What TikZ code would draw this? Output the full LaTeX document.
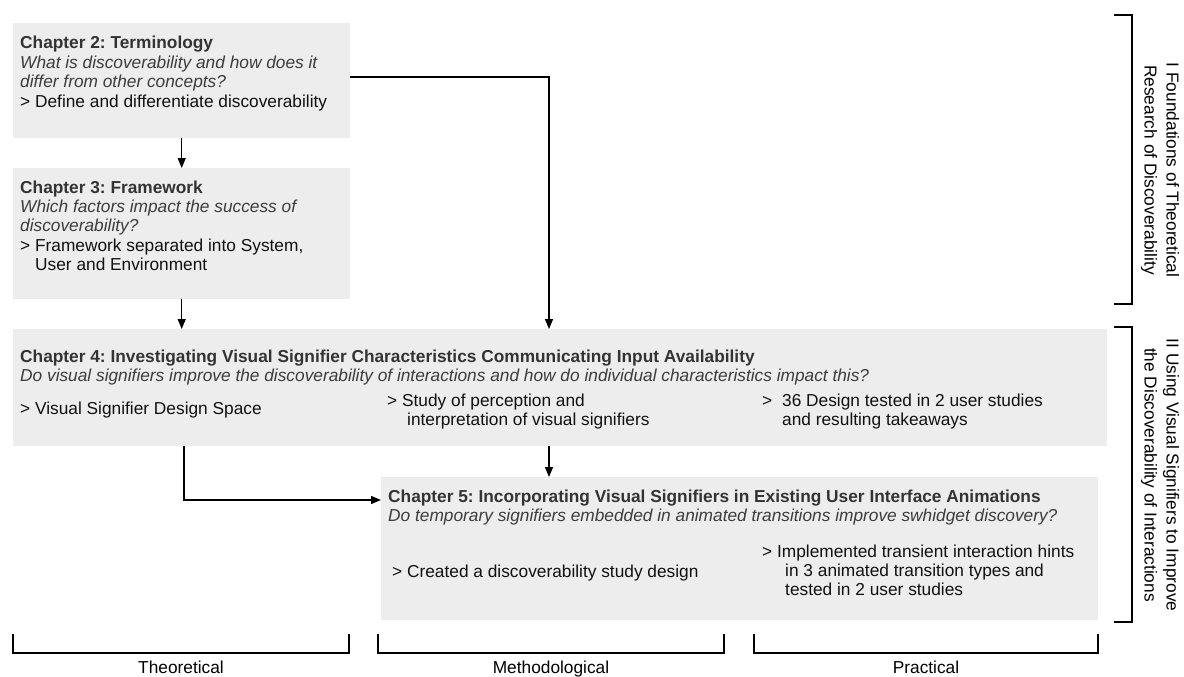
\documentclass[tikz,border=0pt]{standalone}
\usepackage{fontspec}
\setmainfont{Liberation Sans}
\usetikzlibrary{arrows.meta}
\definecolor{boxgray}{HTML}{EDEDED}
\definecolor{titlecol}{HTML}{333333}
\definecolor{qcol}{HTML}{3C3C3C}
\definecolor{bulcol}{HTML}{111111}
\newcommand{\mlines}[1]{\begin{tabular}[t]{@{}l@{}}#1\end{tabular}}
\newcommand{\clines}[1]{\begin{tabular}[t]{@{}c@{}}#1\end{tabular}}
\newcommand{\ttl}{\color{titlecol}\bfseries}
\newcommand{\qst}{\color{qcol}\itshape}
\frenchspacing
\begin{document}
\begin{tikzpicture}[x=1pt,y=-1pt,
  box/.style={fill=boxgray, draw=none, anchor=north west, inner sep=0pt},
  txt/.style={anchor=base west, inner sep=0pt, text=bulcol,
    font=\fontsize{17.3pt}{19.4pt}\selectfont},
  lbl/.style={anchor=base, inner sep=0pt, text=black,
    font=\fontsize{17.3pt}{19.4pt}\selectfont},
  sidelbl/.style={anchor=center, inner sep=0pt, text=black, rotate=-90,
    font=\fontsize{17.3pt}{22pt}\selectfont},
  arr/.style={line width=1.3pt, -{Triangle[length=10pt,width=8pt]}},
  brk/.style={line width=2.5pt, line cap=rect}
]
\useasboundingbox (0,0) rectangle (1184,677);

% boxes
\node[box, minimum width=337pt, minimum height=115pt] (c2) at (13,23) {};
\node[box, minimum width=337pt, minimum height=131pt] (c3) at (13,168) {};
\node[box, minimum width=1094pt, minimum height=117pt] (c4) at (13,329) {};
\node[box, minimum width=717pt, minimum height=143pt] (c5) at (381,477) {};

% texts chapter 2
\node[txt] (t2) at (20,49) {\mlines{\ttl Chapter 2: Terminology\\
  \qst What is discoverability and how does it\\
  \qst differ from other concepts?\\
  > Define and differentiate discoverability}};
% chapter 3
\node[txt] (t3) at (20,193) {\mlines{\ttl Chapter 3: Framework\\
  \qst Which factors impact the success of\\
  \qst discoverability?\\
  > Framework separated into System,\\
  \hspace*{15pt}User and Environment}};
% chapter 4
\node[txt] (t4) at (20,362) {\mlines{\ttl Chapter 4: Investigating Visual Signifier Characteristics Communicating Input Availability\\
  \qst Do visual signifiers improve the discoverability of interactions and how do individual characteristics impact this?}};
\node[txt] (b4a) at (20,414) {> Visual Signifier Design Space};
\node[txt] (b4b) at (387,406) {\mlines{> Study of perception and\\
  \hspace*{20pt}interpretation of visual signifiers}};
\node[txt] (b4c) at (762,406) {\mlines{\makebox[20pt][l]{>}36 Design tested in 2 user studies\\
  \hspace*{20pt}and resulting takeaways}};
% chapter 5
\node[txt] (t5) at (388,502) {\mlines{\ttl Chapter 5: Incorporating Visual Signifiers in Existing User Interface Animations\\
  \qst Do temporary signifiers embedded in animated transitions improve swhidget discovery?}};
\node[txt] (b5a) at (392,577) {> Created a discoverability study design};
\node[txt] (b5b) at (762,557) {\mlines{> Implemented transient interaction hints\\
  \hspace*{23pt}in 3 animated transition types and\\
  \hspace*{23pt}tested in 2 user studies}};

% connectors
\draw[arr] (c2.south) -- (c3.north);
\draw[arr] (c3.south) -- (c4.north -| c3.south);
\coordinate (k1) at (549,77);
\draw[arr] (c2.east |- k1) -- (k1) -- (c4.north -| k1);
\coordinate (k2) at (549,460);
\draw[arr] (c4.south -| k2) -- (c5.north -| k2);
\coordinate (k3) at (184,500);
\draw[arr] (c4.south -| k3) -- (k3) -- (c5.west |- k3);

% right brackets
\draw[brk] (1115,15) -- (1132,15) -- (1132,304) -- (1115,304);
\draw[brk] (1115,327) -- (1132,327) -- (1132,622) -- (1115,622);
\node[sidelbl] (p1) at (1160,170) {\clines{I Foundations of Theoretical\\ Research of Discoverability}};
\node[sidelbl] (p2) at (1160,475) {\clines{II Using Visual Signifiers to Improve\\ the Discoverability of Interactions}};

% bottom brackets
\draw[brk] (13,635) -- (13,653) -- (349,653) -- (349,635);
\draw[brk] (378,635) -- (378,653) -- (724,653) -- (724,635);
\draw[brk] (754,635) -- (754,653) -- (1098,653) -- (1098,635);
\node[lbl] (l1) at (181,673) {Theoretical};
\node[lbl] (l2) at (551,673) {Methodological};
\node[lbl] (l3) at (926,673) {Practical};
\end{tikzpicture}
\end{document}
